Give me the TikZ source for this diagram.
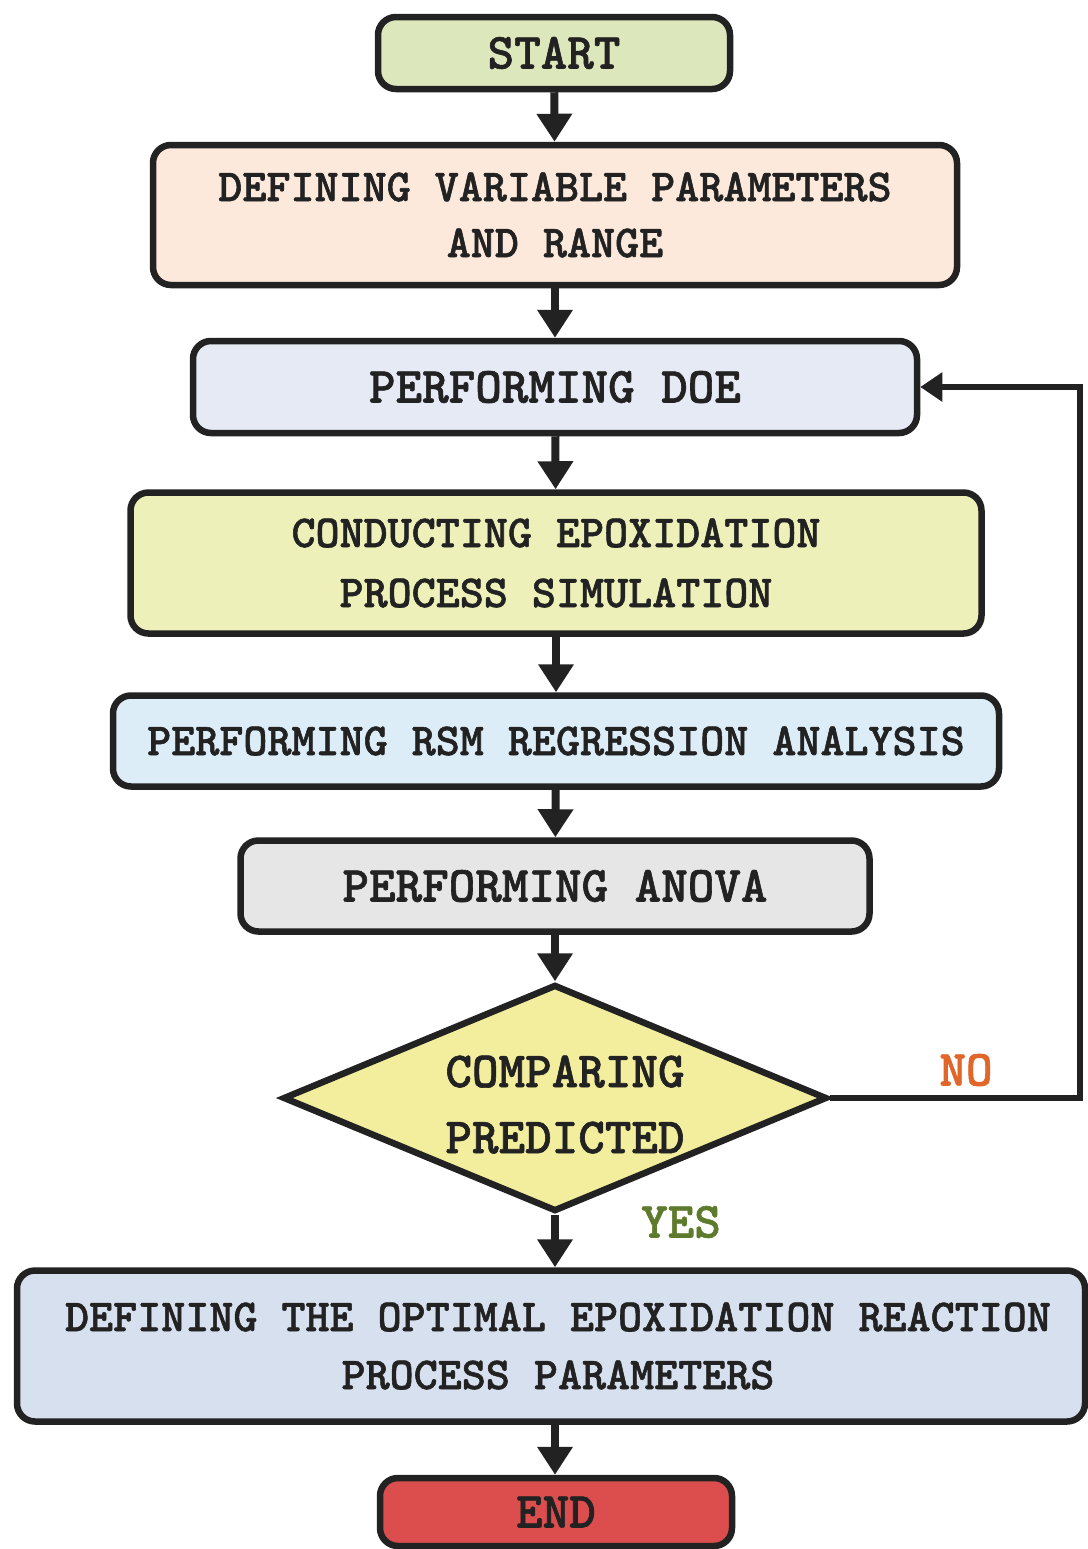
\documentclass[tikz,border=0pt]{standalone}
\usepackage{fontspec}
\usetikzlibrary{shapes.geometric,arrows.meta}
\newfontfamily\flowfont{Latin Modern Mono Light}[BoldFeatures={FakeBold=1.2}]
\definecolor{boxline}{HTML}{222222}
\definecolor{startfill}{HTML}{DDE7BC}
\definecolor{rangefill}{HTML}{FCE9DC}
\definecolor{doefill}{HTML}{E6EAF5}
\definecolor{simfill}{HTML}{EEF0BA}
\definecolor{rsmfill}{HTML}{DCEDF7}
\definecolor{anovafill}{HTML}{E6E6E6}
\definecolor{decfill}{HTML}{F2EE9E}
\definecolor{optfill}{HTML}{D7E0EE}
\definecolor{endfill}{HTML}{DC4D4D}
\definecolor{nocol}{HTML}{E0662A}
\definecolor{yescol}{HTML}{5E7A2C}
\tikzset{
  box/.style={draw=boxline, line width=3.25pt, rounded corners=9pt, align=center,
    text=boxline, inner sep=0pt},
  smalltxt/.style={font=\flowfont\bfseries\fontsize{22.9}{28}\selectfont},
  bigtxt/.style={font=\flowfont\bfseries\fontsize{25.3}{33}\selectfont},
  arr/.style={draw=boxline, line width=4pt, line join=miter,
    -{Triangle[width=17pt,length=14pt]}},
  backarr/.style={draw=boxline, line width=3.25pt, line join=miter,
    -{Triangle[width=14pt,length=11pt]}},
}
\begin{document}
\begin{tikzpicture}[x=0.5pt,y=-0.5pt]
    % Page
    \fill[white] (0,0) rectangle (1088,1549);
    \useasboundingbox (0,0) rectangle (1088,1549);
    % Steps
    \node[box, bigtxt, fill=startfill, minimum width=176pt, minimum height=36pt] (start) at (554,53) {START};
    \node[box, smalltxt, fill=rangefill, minimum width=402pt, minimum height=70pt] (range) at (555,215)
        {DEFINING VARIABLE PARAMETERS\\AND RANGE};
    \node[box, bigtxt, fill=doefill, minimum width=362pt, minimum height=46pt] (doe) at (555,387) {PERFORMING DOE};
    \node[box, smalltxt, fill=simfill, minimum width=425.5pt, minimum height=70.5pt,
        font=\flowfont\bfseries\fontsize{22.9}{30}\selectfont] (sim) at (556,563)
        {CONDUCTING EPOXIDATION\\PROCESS SIMULATION};
    \node[box, smalltxt, fill=rsmfill, minimum width=443pt, minimum height=45.5pt] (rsm) at (556,741)
        {PERFORMING RSM REGRESSION ANALYSIS};
    \node[box, bigtxt, fill=anovafill, minimum width=314.5pt, minimum height=45.5pt] (anova) at (555,886)
        {PERFORMING ANOVA};
    % Decision
    \node[diamond, draw=boxline, line width=3.25pt, fill=decfill, bigtxt, text=boxline,
        inner sep=0pt, minimum width=272pt, minimum height=113.5pt, aspect=2.4] (dec) at (555,1098)
        {\raisebox{-9.5pt}[0pt][0pt]{\parbox{150pt}{\centering\hspace*{10pt}COMPARING\\\hspace*{10pt}PREDICTED}}};
    \node[box, smalltxt, fill=optfill, minimum width=534pt, minimum height=75.5pt,
        font=\flowfont\bfseries\fontsize{22.9}{29}\selectfont] (opt) at (551,1346)
        {\hspace*{7pt}DEFINING THE OPTIMAL EPOXIDATION REACTION\\\hspace*{7pt}PROCESS PARAMETERS};
    \node[box, bigtxt, fill=endfill, minimum width=176pt, minimum height=34pt] (stop) at (556,1512) {END};
    % Branch labels
    \node[bigtxt, text=nocol] (no) at (966,1070) {NO};
    \node[bigtxt, text=yescol] (yes) at (681,1222) {YES};
    % Connectors
    \coordinate (back) at (1080,1098);
    \draw[arr] (start) -- (range);
    \draw[arr] (range) -- (doe);
    \draw[arr] (doe) -- (sim);
    \draw[arr] (sim) -- (rsm);
    \draw[arr] (rsm) -- (anova);
    \draw[arr] (anova) -- (dec);
    \draw[arr] (dec.south) -- (dec.south |- opt.north);
    \draw[arr] (dec.south |- opt.south) -- (dec.south |- stop.north);
    \draw[backarr] (dec.east) -- (back) |- (doe.east);
\end{tikzpicture}
\end{document}
